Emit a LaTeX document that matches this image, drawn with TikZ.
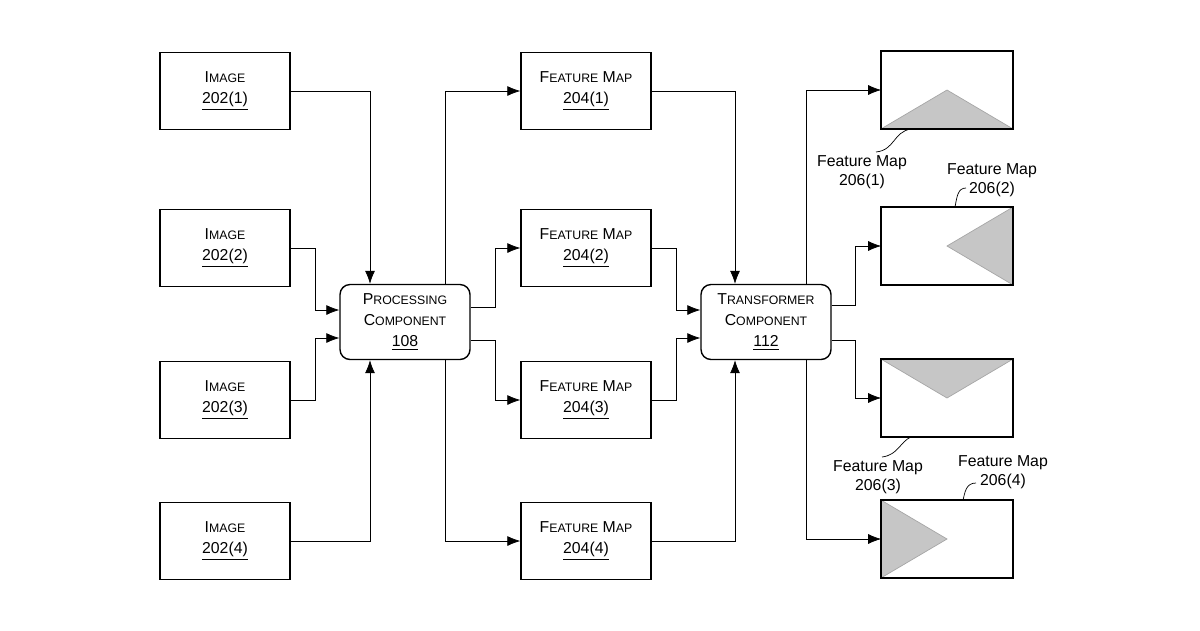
\documentclass[tikz,border=0pt]{standalone}
\usepackage{fontspec}
\setmainfont{Liberation Sans}
\usetikzlibrary{positioning, arrows.meta}
\newcommand{\smc}[2]{#1{\fontsize{7}{9}\selectfont #2}}

\begin{document}
\begin{tikzpicture}[x=0.02cm, y=-0.02cm,
      font=\fontsize{9}{12}\selectfont,
      box/.style={draw, thick, minimum width=2.6cm, minimum height=1.54cm, align=center, inner sep=0pt},
      comp/.style={box, rounded corners=2mm},
      fmap/.style={minimum width=2.62cm, minimum height=1.54cm, inner sep=0pt},
      arr/.style={-{Latex[width=2mm, length=2.6mm]}, thin},
      tri/.style={fill=gray!45, draw=gray!70},
      lbl/.style={align=center, font=\fontsize{9}{11}\selectfont}]

      \useasboundingbox (0,0) rectangle (1200,630);

      \node[box] (img1) at (225,91) {\smc{I}{MAGE}\\\underline{202(1)}};
      \node[box] (img2) at (225,248) {\smc{I}{MAGE}\\\underline{202(2)}};
      \node[box] (img3) at (225,400) {\smc{I}{MAGE}\\\underline{202(3)}};
      \node[box] (img4) at (225,541) {\smc{I}{MAGE}\\\underline{202(4)}};

      \node[comp] (proc) at (405,322) [minimum height=1.5cm] {\smc{P}{ROCESSING}\\\smc{C}{OMPONENT}\\\underline{108}};

      \node[box] (fm1) at (586,91) {\smc{F}{EATURE} \smc{M}{AP}\\\underline{204(1)}};
      \node[box] (fm2) at (586,248) {\smc{F}{EATURE} \smc{M}{AP}\\\underline{204(2)}};
      \node[box] (fm3) at (586,400) {\smc{F}{EATURE} \smc{M}{AP}\\\underline{204(3)}};
      \node[box] (fm4) at (586,541) {\smc{F}{EATURE} \smc{M}{AP}\\\underline{204(4)}};

      \node[comp] (trans) at (766,322) [minimum height=1.5cm] {\smc{T}{RANSFORMER}\\\smc{C}{OMPONENT}\\\underline{112}};

      \node[fmap] (out1) at (947,90) {};
      \node[fmap] (out2) at (947,246) {};
      \node[fmap] (out3) at (947,398) {};
      \node[fmap] (out4) at (947,539) {};

      % triangles inside the output maps
      \fill[tri] (out1.south west) -- (out1.center) -- (out1.south east) -- cycle;
      \fill[tri] (out2.north east) -- (out2.center) -- (out2.south east) -- cycle;
      \fill[tri] (out3.north west) -- (out3.center) -- (out3.north east) -- cycle;
      \fill[tri] (out4.north west) -- (out4.center) -- (out4.south west) -- cycle;
      \foreach \n in {out1, out2, out3, out4} \draw[thick] (\n.south west) rectangle (\n.north east);

      % images to processing
      \draw[arr] (img1.east) -| ([xshift=-35*0.02cm]proc.north);
      \draw[arr] (img2.east) -- ++(25,0) |- ([yshift=0.24cm]proc.west);
      \draw[arr] (img3.east) -- ++(25,0) |- ([yshift=-0.32cm]proc.west);
      \draw[arr] (img4.east) -| ([xshift=-35*0.02cm]proc.south);

      % processing to feature maps
      \draw[arr] ([xshift=40*0.02cm]proc.north) |- (fm1.west);
      \draw[arr] ([yshift=0.3cm]proc.east) -- ++(25,0) |- (fm2.west);
      \draw[arr] ([yshift=-0.36cm]proc.east) -- ++(25,0) |- (fm3.west);
      \draw[arr] ([xshift=40*0.02cm]proc.south) |- (fm4.west);

      % feature maps to transformer
      \draw[arr] (fm1.east) -| ([xshift=-31*0.02cm]trans.north);
      \draw[arr] (fm2.east) -- ++(25,0) |- ([yshift=0.24cm]trans.west);
      \draw[arr] (fm3.east) -- ++(25,0) |- ([yshift=-0.32cm]trans.west);
      \draw[arr] (fm4.east) -| ([xshift=-31*0.02cm]trans.south);

      % transformer to outputs
      \draw[arr] ([xshift=40*0.02cm]trans.north) |- (out1.west);
      \draw[arr] ([yshift=0.34cm]trans.east) -- ++(24,0) |- (out2.west);
      \draw[arr] ([yshift=-0.36cm]trans.east) -- ++(24,0) |- (out3.west);
      \draw[arr] ([xshift=40*0.02cm]trans.south) |- (out4.west);

      % output labels
      \node[lbl] (l1) at (862,172) {Feature Map\\206(1)};
      \node[lbl] (l2) at (992,180) {Feature Map\\206(2)};
      \node[lbl] (l3) at (878,477) {Feature Map\\206(3)};
      \node[lbl] (l4) at (1003,472) {Feature Map\\206(4)};
      \coordinate (c1) at (876,152);
      \draw (c1) .. controls (895,150) and (893,132) .. ([xshift=30*0.02cm]out1.south west);
      \coordinate (c2) at (966,188);
      \draw ([xshift=8*0.02cm]out2.north) .. controls (957,196) and (958,188) .. (c2);
      \coordinate (c3) at (882,457);
      \draw (c3) .. controls (898,455) and (900,442) .. ([xshift=-36*0.02cm]out3.south);
      \coordinate (c4) at (976,483);
      \draw ([xshift=16*0.02cm]out4.north) .. controls (965,492) and (966,483) .. (c4);
\end{tikzpicture}
\end{document}
